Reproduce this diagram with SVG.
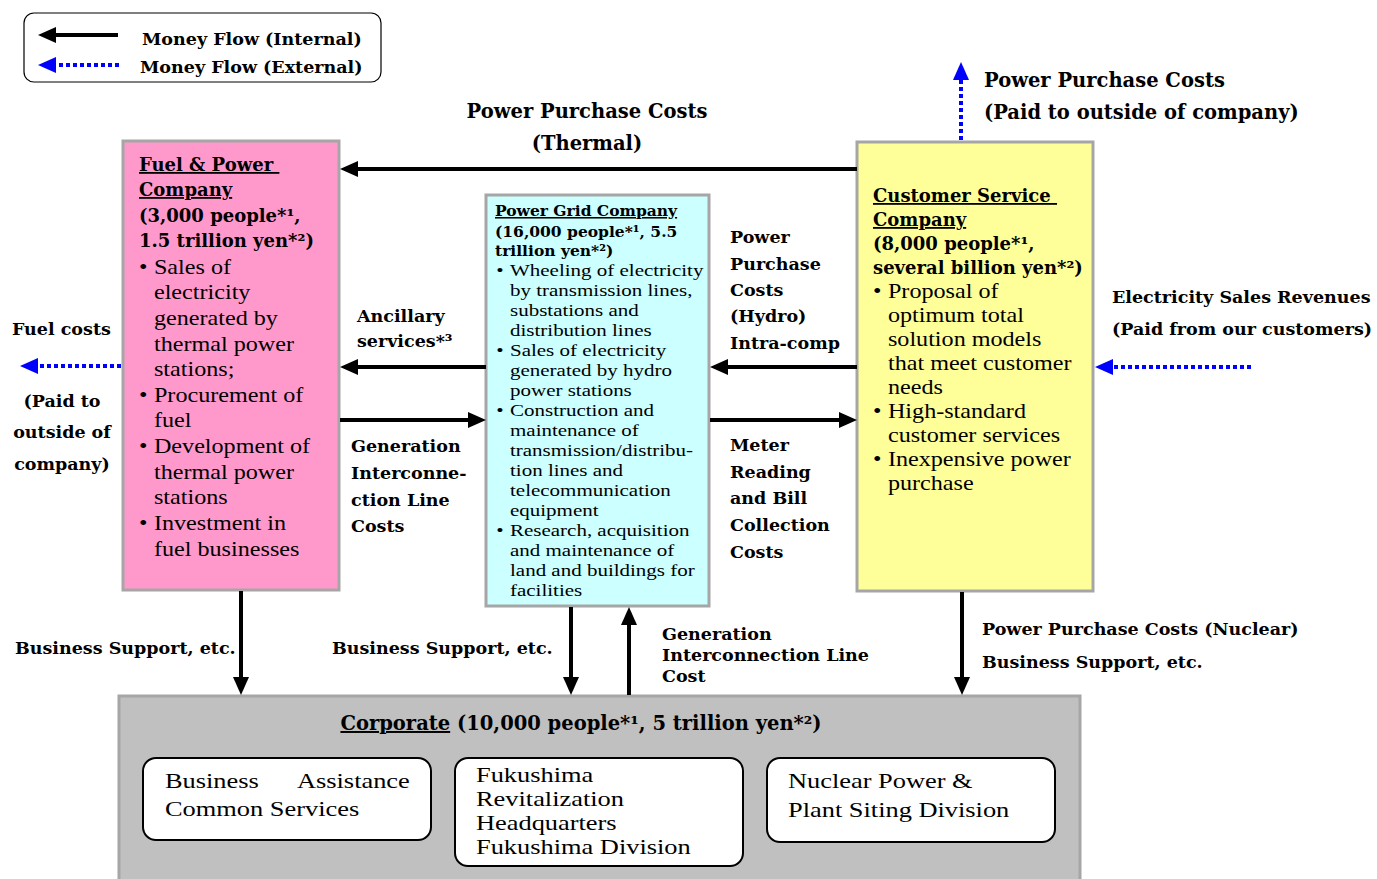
<svg xmlns="http://www.w3.org/2000/svg" width="1377" height="879" viewBox="0 0 1377 879">
<style>
text{font-family:"DejaVu Serif","Liberation Serif",serif;fill:#000}
.b{font-weight:bold;font-size:17.5px}
.t{font-weight:bold;font-size:18px}
.lb{font-weight:bold;font-size:19.5px}
.rr{font-family:"Liberation Serif","Times New Roman",serif;font-weight:normal}
.r21{font-size:21px}
.r17{font-size:17.5px}
.r22{font-size:22px}
.u{text-decoration:underline}
.box{stroke:#A6A6A6;stroke-width:3}
.inner{fill:#fff;stroke:#000;stroke-width:2}
.k{stroke:#000;stroke-width:4;fill:none}
.bl{stroke:#0000FF;stroke-width:4;stroke-dasharray:4 3;fill:none}
</style>
<defs>
<marker id="ak" markerUnits="userSpaceOnUse" markerWidth="20" markerHeight="18" refX="10" refY="8" orient="auto"><path d="M0,0 L18,8 L0,16 z" fill="#000"/></marker>
<marker id="ab" markerUnits="userSpaceOnUse" markerWidth="20" markerHeight="18" refX="10" refY="8" orient="auto"><path d="M0,0 L18,8 L0,16 z" fill="#0000FF"/></marker>
</defs>

<g id="legend">
<rect x="24" y="13" width="357" height="69" rx="10" fill="#fff" stroke="#000" stroke-width="1.2"/>
<line x1="118" y1="35" x2="46" y2="35" class="k" marker-end="url(#ak)"/>
<line x1="119" y1="65" x2="46" y2="65" class="bl" marker-end="url(#ab)"/>
<text x="142" y="45" class="b">Money Flow (Internal)</text>
<text x="140" y="73" class="b">Money Flow (External)</text>
</g>

<g id="fuel-power">
<rect x="123" y="141" width="216" height="449" fill="#FF99CC" class="box"/>
<text class="t"><tspan x="139" y="171" class="u">Fuel &amp; Power&#160;</tspan><tspan x="139" y="196" class="u">Company</tspan><tspan x="139" y="222">(3,000 people*¹,</tspan><tspan x="139" y="247">1.5 trillion yen*²)</tspan></text>
<g transform="matrix(1.15,0,0,1,-20.85,0)">
<text class="rr r21"><tspan x="139" y="274">•</tspan><tspan x="152" y="274">Sales of</tspan><tspan x="152" y="299">electricity</tspan><tspan x="152" y="325">generated by</tspan><tspan x="152" y="351">thermal power</tspan><tspan x="152" y="376">stations;</tspan><tspan x="139" y="402">•</tspan><tspan x="152" y="402">Procurement of</tspan><tspan x="152" y="427">fuel</tspan><tspan x="139" y="453">•</tspan><tspan x="152" y="453">Development of</tspan><tspan x="152" y="479">thermal power</tspan><tspan x="152" y="504">stations</tspan><tspan x="139" y="530">•</tspan><tspan x="152" y="530">Investment in</tspan><tspan x="152" y="556">fuel businesses</tspan></text>
</g>
</g>

<g id="power-grid">
<rect x="486" y="195" width="223" height="411" fill="#CCFFFF" class="box"/>
<text style="font-weight:bold;font-size:15.5px"><tspan x="495" y="216" class="u">Power Grid Company</tspan><tspan x="495" y="237">(16,000 people*¹, 5.5</tspan><tspan x="495" y="256">trillion yen*²)</tspan></text>
<g transform="matrix(1.2,0,0,1,-99,0)">
<text class="rr r17"><tspan x="496" y="276">•</tspan><tspan x="507.5" y="276">Wheeling of electricity</tspan><tspan x="507.5" y="296">by transmission lines,</tspan><tspan x="507.5" y="316">substations and</tspan><tspan x="507.5" y="336">distribution lines</tspan><tspan x="496" y="356">•</tspan><tspan x="507.5" y="356">Sales of electricity</tspan><tspan x="507.5" y="376">generated by hydro</tspan><tspan x="507.5" y="396">power stations</tspan><tspan x="496" y="416">•</tspan><tspan x="507.5" y="416">Construction and</tspan><tspan x="507.5" y="436">maintenance of</tspan><tspan x="507.5" y="456">transmission/distribu-</tspan><tspan x="507.5" y="476">tion lines and</tspan><tspan x="507.5" y="496">telecommunication</tspan><tspan x="507.5" y="516">equipment</tspan><tspan x="496" y="536">•</tspan><tspan x="507.5" y="536">Research, acquisition</tspan><tspan x="507.5" y="556">and maintenance of</tspan><tspan x="507.5" y="576">land and buildings for</tspan><tspan x="507.5" y="596">facilities</tspan></text>
</g>
</g>

<g id="customer-service">
<rect x="857" y="142" width="236" height="449" fill="#FFFF99" class="box"/>
<text class="t"><tspan x="873" y="202" class="u">Customer Service&#160;</tspan><tspan x="873" y="226" class="u">Company</tspan><tspan x="873" y="250">(8,000 people*¹,</tspan><tspan x="873" y="274">several billion yen*²)</tspan></text>
<g transform="matrix(1.15,0,0,1,-130.95,0)">
<text class="rr r21"><tspan x="873" y="298">•</tspan><tspan x="886" y="298">Proposal of</tspan><tspan x="886" y="322">optimum total</tspan><tspan x="886" y="346">solution models</tspan><tspan x="886" y="370">that meet customer</tspan><tspan x="886" y="394">needs</tspan><tspan x="873" y="418">•</tspan><tspan x="886" y="418">High-standard</tspan><tspan x="886" y="442">customer services</tspan><tspan x="873" y="466">•</tspan><tspan x="886" y="466">Inexpensive power</tspan><tspan x="886" y="490">purchase</tspan></text>
</g>
</g>

<g id="corporate">
<rect x="119" y="696" width="961" height="200" fill="#C0C0C0" class="box"/>
<text x="581" y="730" text-anchor="middle" style="font-weight:bold;font-size:19.5px"><tspan class="u">Corporate</tspan> (10,000 people*¹, 5 trillion yen*²)</text>
<g id="business-assistance">
<rect x="143" y="758" width="288" height="82" rx="13" class="inner"/>
<g transform="matrix(1.2,0,0,1,-33,0)">
<text class="rr r22"><tspan x="165" y="788">Business</tspan><tspan x="369" y="788" text-anchor="end">Assistance</tspan><tspan x="165" y="816">Common Services</tspan></text>
</g>
</g>
<g id="fukushima">
<rect x="455" y="758" width="288" height="108" rx="13" class="inner"/>
<g transform="matrix(1.2,0,0,1,-95.2,0)">
<text class="rr r22"><tspan x="476" y="782">Fukushima</tspan><tspan x="476" y="806">Revitalization</tspan><tspan x="476" y="830">Headquarters</tspan><tspan x="476" y="854">Fukushima Division</tspan></text>
</g>
</g>
<g id="nuclear">
<rect x="767" y="758" width="288" height="84" rx="13" class="inner"/>
<g transform="matrix(1.2,0,0,1,-157.6,0)">
<text class="rr r22"><tspan x="788" y="788">Nuclear Power &amp;</tspan><tspan x="788" y="817">Plant Siting Division</tspan></text>
</g>
</g>
</g>

<g id="connectors">
<line x1="857" y1="169" x2="348" y2="169" class="k" marker-end="url(#ak)"/>
<line x1="486" y1="367" x2="348" y2="367" class="k" marker-end="url(#ak)"/>
<line x1="340" y1="420" x2="478" y2="420" class="k" marker-end="url(#ak)"/>
<line x1="857" y1="367" x2="718" y2="367" class="k" marker-end="url(#ak)"/>
<line x1="710" y1="420" x2="849" y2="420" class="k" marker-end="url(#ak)"/>
<line x1="121" y1="366" x2="28" y2="366" class="bl" marker-end="url(#ab)"/>
<line x1="1251" y1="367" x2="1103" y2="367" class="bl" marker-end="url(#ab)"/>
<line x1="961" y1="140" x2="961" y2="70" class="bl" marker-end="url(#ab)"/>
<line x1="241" y1="591" x2="241" y2="687" class="k" marker-end="url(#ak)"/>
<line x1="571" y1="607" x2="571" y2="687" class="k" marker-end="url(#ak)"/>
<line x1="629" y1="695" x2="629" y2="615" class="k" marker-end="url(#ak)"/>
<line x1="962" y1="592" x2="962" y2="687" class="k" marker-end="url(#ak)"/>
</g>

<g id="labels">
<text class="lb" text-anchor="middle"><tspan x="587" y="118">Power Purchase Costs</tspan><tspan x="587" y="150">(Thermal)</tspan></text>
<text class="lb"><tspan x="984" y="87">Power Purchase Costs</tspan><tspan x="984" y="119">(Paid to outside of company)</tspan></text>
<text class="b"><tspan x="357" y="322">Ancillary</tspan><tspan x="357" y="347">services*³</tspan></text>
<text class="b"><tspan x="351" y="452">Generation</tspan><tspan x="351" y="479">Interconne-</tspan><tspan x="351" y="506">ction Line</tspan><tspan x="351" y="532">Costs</tspan></text>
<text class="b"><tspan x="730" y="243">Power</tspan><tspan x="730" y="270">Purchase</tspan><tspan x="730" y="296">Costs</tspan><tspan x="730" y="322">(Hydro)</tspan><tspan x="730" y="349">Intra-comp</tspan></text>
<text class="b"><tspan x="730" y="451">Meter</tspan><tspan x="730" y="478">Reading</tspan><tspan x="730" y="504">and Bill</tspan><tspan x="730" y="531">Collection</tspan><tspan x="730" y="558">Costs</tspan></text>
<text class="b" x="12" y="335">Fuel costs</text>
<text class="b" text-anchor="middle"><tspan x="62" y="407">(Paid to</tspan><tspan x="62" y="438">outside of</tspan><tspan x="62" y="470">company)</tspan></text>
<text class="b"><tspan x="1112" y="303">Electricity Sales Revenues</tspan><tspan x="1112" y="335">(Paid from our customers)</tspan></text>
<text class="b" x="15" y="654">Business Support, etc.</text>
<text class="b" x="332" y="654">Business Support, etc.</text>
<text class="b"><tspan x="662" y="640">Generation</tspan><tspan x="662" y="661">Interconnection Line</tspan><tspan x="662" y="682">Cost</tspan></text>
<text class="b"><tspan x="982" y="635">Power Purchase Costs (Nuclear)</tspan><tspan x="982" y="668">Business Support, etc.</tspan></text>
</g>
</svg>
